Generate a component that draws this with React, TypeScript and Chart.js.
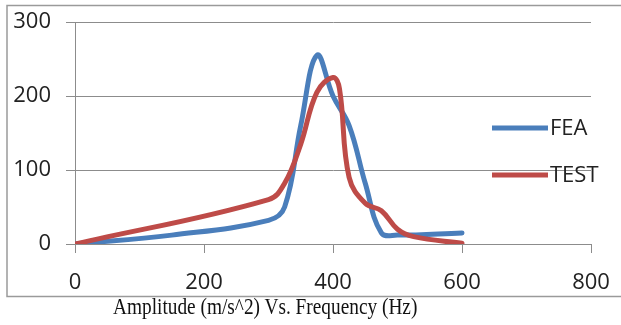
import React, { useEffect, useRef } from 'react';
import { Chart, registerables } from 'chart.js';

Chart.register(...registerables);

// Frequency (Hz) / Amplitude (m/s^2)
const frequencyFEA = [0, 150, 300, 325, 350, 375, 400, 425, 450, 475, 500, 600];
const amplitudeFEA = [0, 12, 32, 50, 160, 255, 200, 160, 82, 15, 12, 15];
const frequencyTEST = [0, 300, 325, 350, 375, 400, 410, 425, 450, 475, 500, 525, 600];
const amplitudeTEST = [0, 60, 82, 135, 205, 225, 210, 90, 55, 45, 20, 10, 1];
const seriesLabels = ['FEA', 'TEST'];
const seriesColors = ['#4A7EBB', '#BE4B48'];
const xTicks = [0, 200, 400, 600, 800];
const yTicks = [0, 100, 200, 300];
const chartTitle = 'Amplitude (m/s^2) Vs. Frequency (Hz)';

const TICK_FONT = '"Open Sans", "Liberation Sans", sans-serif';

export default function App() {
  const ref = useRef<HTMLCanvasElement | null>(null);

  useEffect(() => {
    if (!ref.current) return;
    const toPts = (xs: number[], ys: number[]) => xs.map((x, i) => ({ x, y: ys[i] }));

    const borderPlugin = {
      id: 'outerBorder',
      beforeDraw(chart: any) {
        const ctx = chart.ctx;
        ctx.save();
        ctx.strokeStyle = '#9a9a9a';
        ctx.lineWidth = 1.5;
        ctx.strokeRect(7, 5.5, 640, 291);
        ctx.restore();
      },
    };

    const legendPlugin = {
      id: 'customLegend',
      afterDraw(chart: any) {
        const ctx = chart.ctx;
        ctx.save();
        const ys = [128, 175];
        chart.data.datasets.forEach((ds: any, i: number) => {
          ctx.strokeStyle = ds.borderColor;
          ctx.lineWidth = 5;
          ctx.lineCap = 'butt';
          ctx.beginPath();
          ctx.moveTo(492, ys[i]);
          ctx.lineTo(548, ys[i]);
          ctx.stroke();
          ctx.fillStyle = '#222';
          ctx.font = '22px ' + TICK_FONT;
          ctx.textBaseline = 'middle';
          ctx.textAlign = 'left';
          ctx.fillText(ds.label, 550, ys[i] + 1);
        });
        ctx.restore();
      },
    };

    const chart = new Chart(ref.current, {
      type: 'line',
      data: {
        datasets: [
          {
            label: seriesLabels[0],
            data: toPts(frequencyFEA, amplitudeFEA),
            borderColor: seriesColors[0],
            backgroundColor: seriesColors[0],
            borderWidth: 5,
            pointRadius: 0,
            tension: 0.4,
            borderCapStyle: 'round',
            borderJoinStyle: 'round',
            order: 1,
          },
          {
            label: seriesLabels[1],
            data: toPts(frequencyTEST, amplitudeTEST),
            borderColor: seriesColors[1],
            backgroundColor: seriesColors[1],
            borderWidth: 5,
            pointRadius: 0,
            tension: 0.4,
            borderCapStyle: 'round',
            borderJoinStyle: 'round',
            order: 0,
          },
        ],
      },
      options: {
        responsive: false,
        animation: false,
        devicePixelRatio: 1,
        layout: { padding: { left: 7, top: 22, right: 30, bottom: 0 } },
        plugins: {
          legend: { display: false },
          tooltip: { enabled: false },
        },
        scales: {
          x: {
            type: 'linear',
            min: xTicks[0],
            max: xTicks[xTicks.length - 1],
            afterBuildTicks: (scale: any) => {
              scale.ticks = xTicks.map((v) => ({ value: v }));
            },
            afterFit: (scale: any) => {
              scale.height = 81;
              scale.paddingLeft = 0;
              scale.paddingRight = 0;
              scale.paddingTop = 0;
              scale.paddingBottom = 0;
            },
            ticks: {
              padding: 17,
              color: '#222',
              font: { family: TICK_FONT, size: 22 },
              maxRotation: 0,
            },
            grid: {
              drawOnChartArea: false,
              drawTicks: true,
              tickLength: 9,
              color: '#8c8c8c',
            },
            border: { display: true, color: '#8c8c8c' },
          },
          y: {
            type: 'linear',
            min: yTicks[0],
            max: yTicks[yTicks.length - 1],
            afterBuildTicks: (scale: any) => {
              scale.ticks = yTicks.map((v) => ({ value: v }));
            },
            afterFit: (scale: any) => {
              scale.width = 68;
              scale.paddingLeft = 0;
              scale.paddingRight = 0;
              scale.paddingTop = 0;
              scale.paddingBottom = 0;
            },
            ticks: {
              padding: 15,
              color: '#222',
              font: { family: TICK_FONT, size: 22 },
            },
            grid: {
              drawTicks: true,
              tickLength: 9,
              color: '#8c8c8c',
            },
            border: { display: true, color: '#8c8c8c' },
          },
        },
      },
      plugins: [borderPlugin, legendPlugin],
    } as any);

    return () => chart.destroy();
  }, []);

  return (
    <div style={{ position: 'absolute', left: 0, top: 0, width: 621, height: 325, overflow: 'hidden' }}>
      <canvas ref={ref} width={621} height={325} style={{ display: 'block', width: 621, height: 325 }} />
      <div
        style={{
          position: 'absolute',
          left: 113,
          top: 295,
          fontFamily: '"Liberation Serif", "Times New Roman", serif',
          fontSize: 23,
          color: '#111',
          whiteSpace: 'nowrap',
          lineHeight: '24px',
          transform: 'scaleX(0.84)',
          transformOrigin: '0 0',
        }}
      >
        {chartTitle}
      </div>
    </div>
  );
}
